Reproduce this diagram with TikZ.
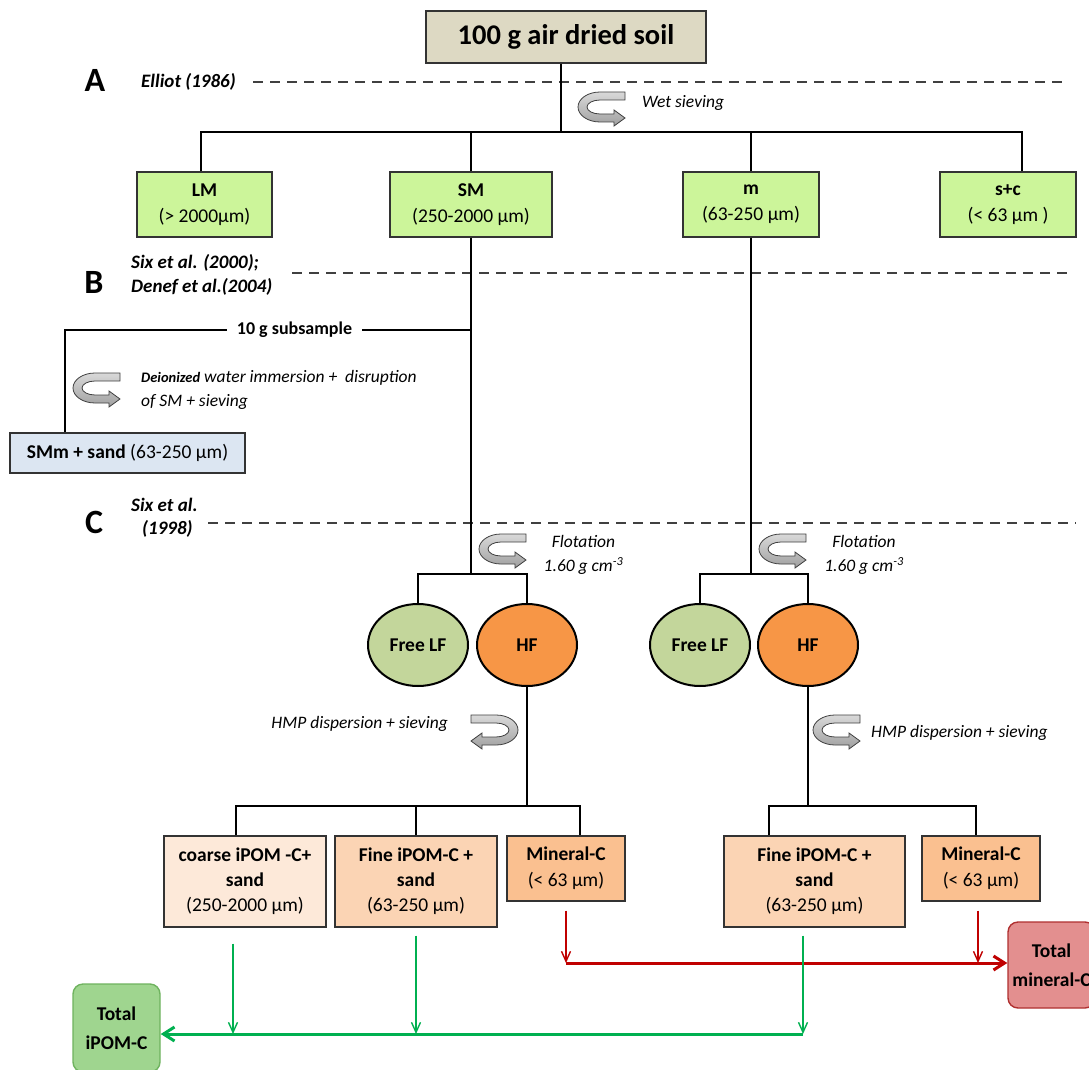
\documentclass[tikz,border=0pt]{standalone}
\usepackage{fontspec}
\setmainfont{Carlito}
\usetikzlibrary{arrows.meta,shapes.geometric}
\definecolor{csoil}{HTML}{DDD9C3}
\definecolor{cgreenbox}{HTML}{CCF59A}
\definecolor{cbluebox}{HTML}{DCE6F2}
\definecolor{cfree}{HTML}{C3D69B}
\definecolor{chf}{HTML}{F79646}
\definecolor{cpeachA}{HTML}{FDE9D9}
\definecolor{cpeachB}{HTML}{FBD4B4}
\definecolor{cpeachC}{HTML}{FAC090}
\definecolor{ctotg}{HTML}{9FD58F}
\definecolor{ctotgb}{HTML}{6FB35F}
\definecolor{ctotr}{HTML}{E38F8F}
\definecolor{ctotrb}{HTML}{B03030}
\definecolor{carrr}{HTML}{C00000}
\definecolor{carrg}{HTML}{00B050}
\tikzset{
  conn/.style={draw=black, line width=1.2pt},
  boxn/.style={draw=black!80, line width=1.4pt, inner sep=0pt, align=center},
  sepline/.style={draw=black!75, line width=1.6pt, dash pattern=on 10pt off 7pt},
  reftext/.style={font=\fontsize{19}{24}\selectfont\bfseries\itshape, anchor=west, inner sep=0pt},
  seclab/.style={font=\fontsize{34}{34}\selectfont\bfseries, inner sep=0pt},
  note/.style={font=\fontsize{17.5}{24}\selectfont\itshape, inner sep=0pt},
  ellnode/.style={ellipse, draw=black, line width=2pt, minimum width=100pt, minimum height=82pt, inner sep=0pt, font=\fontsize{19.5}{22}\selectfont\bfseries},
  topbox/.style={boxn, fill=cgreenbox, minimum height=65pt, font=\fontsize{19.5}{26}\selectfont},
  botbox/.style={boxn, minimum height=91pt, font=\fontsize{19.5}{25}\selectfont},
  minbox/.style={boxn, fill=cpeachC, minimum width=118pt, minimum height=65pt, font=\fontsize{19.5}{26}\selectfont},
  totbox/.style={rounded corners=10pt, line width=1.4pt, inner sep=0pt, align=center, minimum width=87pt, font=\fontsize{19.5}{29}\selectfont\bfseries},
  thinr/.style={draw=carrr, line width=1.4pt, -{Straight Barb[length=10pt,width=9pt]}},
  thickr/.style={draw=carrr, line width=3pt, -{Straight Barb[length=11pt,width=14pt]}},
  thing/.style={draw=carrg, line width=1.4pt, -{Straight Barb[length=10pt,width=9pt]}},
  thickg/.style={draw=carrg, line width=3pt, -{Straight Barb[length=11pt,width=14pt]}},
  curlicon/.pic={
    \shadedraw[top color=gray!30, bottom color=gray!75, draw=black!75, line width=0.8pt]
      (47,0) -- (22,0) arc[start angle=-90, end angle=-270, x radius=22, y radius=15]
      -- (36,30) -- (36,34) -- (47,26) -- (36,18) -- (36,22) -- (22,22)
      arc[start angle=90, end angle=270, x radius=13, y radius=7] -- (47,8) -- cycle;
  }
}
\begin{document}
\begin{tikzpicture}[x=1pt,y=-1pt]
\useasboundingbox (0,0) rectangle (1089,1070);
\clip (0,0) rectangle (1089,1070);
\fill[white] (0,0) rectangle (1089,1070);

% section labels and references
\node[seclab] (labA) at (95,80) {A};
\node[seclab] (labB) at (94,282) {B};
\node[seclab] (labC) at (94,522) {C};
\node[reftext] (refA) at (141,82) {Elliot (1986)};
\node[reftext] (refB1) at (131,263) {Six et al. (2000);};
\node[reftext] (refB2) at (131,287) {Denef et al.(2004)};
\node[reftext] (refC1) at (131,505) {Six et al.};
\node[reftext] (refC2) at (142,529) {(1998)};

% dashed separators
\coordinate (sepA1) at (253,82); \coordinate (sepA2) at (1069,82);
\coordinate (sepB1) at (292,273); \coordinate (sepB2) at (1069,273);
\coordinate (sepC1) at (208,523); \coordinate (sepC2) at (1076,523);
\draw[sepline] (sepA1) -- (sepA2);
\draw[sepline] (sepB1) -- (sepB2);
\draw[sepline] (sepC1) -- (sepC2);

% top
\node[boxn, fill=csoil, minimum width=280pt, minimum height=52pt, font=\fontsize{28.5}{30}\selectfont\bfseries] (soil) at (566,37) {100 g air dried soil};

\node[topbox, minimum width=135pt] (LM) at (204.5,204.5) {\textbf{LM}\\(> 2000µm)};
\node[topbox, minimum width=162pt] (SM) at (471,204.5) {\textbf{SM}\\(250-2000 µm)};
\node[topbox, minimum width=136pt] (mm) at (751,204.5) {\textbf{m}\\(63-250 µm)};
\node[topbox, minimum width=136pt] (sc) at (1008,204.5) {\textbf{s+c}\\(< 63 µm )};

\coordinate (j1) at (561,132);
\coordinate (dLM) at (201,132);
\coordinate (dSC) at (1022,132);
\draw[conn] (soil.south -| j1) -- (j1);
\draw[conn] (dLM |- LM.north) -- (dLM) -- (dSC) -- (dSC |- sc.north);
\draw[conn] (SM.north) -- (SM.north |- j1);
\draw[conn] (mm.north) -- (mm.north |- j1);

\path (578,92) pic {curlicon};
\node[note, anchor=west] (wet) at (642,103) {Wet sieving};

% B section
\node[font=\fontsize{18}{20}\selectfont\bfseries, fill=white, inner xsep=10pt, inner ysep=2pt] (sub) at (294.5,330) {10 g subsample};
\node[boxn, fill=cbluebox, minimum width=235pt, minimum height=40pt, font=\fontsize{19.5}{22}\selectfont] (smm) at (127.5,453) {\textbf{SMm + sand} (63-250 µm)};
\coordinate (lc) at (65,330);
\draw[conn] (SM.south |- sub) -- (sub.east);
\draw[conn] (sub.west) -- (lc) -- (lc |- smm.north);
\path (73,373) pic {curlicon};
\node[note, anchor=west, align=left] (deion) at (141,390) {{\fontsize{14.5}{24}\selectfont\bfseries Deionized} water immersion +\ \ disruption\\of SM + sieving};

% C section: flotation
\node[ellnode, fill=cfree] (flfA) at (418,645) {Free LF};
\node[ellnode, fill=chf] (hfA) at (527,645) {HF};
\node[ellnode, fill=cfree] (flfB) at (700,645) {Free LF};
\node[ellnode, fill=chf] (hfB) at (808,645) {HF};
\coordinate (flA) at (471,574);
\coordinate (flB) at (751,574);
\draw[conn] (SM.south) -- (flA);
\draw[conn] (mm.south) -- (flB);
\draw[conn] (flfA.north) -- (flfA.north |- flA) -- (hfA.north |- flA) -- (hfA.north);
\draw[conn] (flfB.north) -- (flfB.north |- flB) -- (hfB.north |- flB) -- (hfB.north);
\path (479,534) pic {curlicon};
\path (759,534) pic {curlicon};
\node[note, align=center] (flotA) at (583.5,555) {Flotation\\1.60 g cm\textsuperscript{-3}};
\node[note, align=center] (flotB) at (864,555) {Flotation\\1.60 g cm\textsuperscript{-3}};

% HMP
\path (518,715) pic[xscale=-1] {curlicon};
\path (813,715) pic {curlicon};
\node[note, anchor=east] (hmpA) at (448,724) {HMP dispersion + sieving};
\node[note, anchor=west] (hmpB) at (871,733) {HMP dispersion + sieving};

% bottom boxes
\node[botbox, fill=cpeachA, minimum width=162pt] (coarse) at (245,881.5) {\textbf{coarse iPOM -C+}\\\textbf{sand}\\(250-2000 µm)};
\node[botbox, fill=cpeachB, minimum width=162pt] (fineA) at (416,881.5) {\textbf{Fine iPOM-C +}\\\textbf{sand}\\(63-250 µm)};
\node[minbox] (minA) at (566,868.5) {\textbf{Mineral-C}\\(< 63 µm)};
\node[botbox, fill=cpeachB, minimum width=181pt] (fineB) at (814.5,881.5) {\textbf{Fine iPOM-C +}\\\textbf{sand}\\(63-250 µm)};
\node[minbox] (minB) at (981,868.5) {\textbf{Mineral-C}\\(< 63 µm)};

\coordinate (bA1) at (236,806); \coordinate (bA2) at (580,806);
\coordinate (bB1) at (769,806); \coordinate (bB2) at (976,806);
\draw[conn] (hfA.south) -- (hfA.south |- bA1);
\draw[conn] (bA1 |- coarse.north) -- (bA1) -- (bA2) -- (bA2 |- minA.north);
\draw[conn] (fineA.north) -- (fineA.north |- bA1);
\draw[conn] (hfB.south) -- (hfB.south |- bB1);
\draw[conn] (bB1 |- fineB.north) -- (bB1) -- (bB2) -- (bB2 |- minB.north);

% totals
\node[totbox, fill=ctotg, draw=ctotgb, minimum height=88pt] (totC) at (116.5,1028) {Total\\iPOM-C};
\node[totbox, fill=ctotr, draw=ctotrb, minimum height=86pt] (totM) at (1051.5,965) {Total\\mineral-C};

% red arrows
\coordinate (rA) at (566,963);
\coordinate (rB) at (978,963);
\draw[thinr] ([yshift=-9pt]minA.south) -- (rA);
\draw[thinr] ([xshift=-3pt,yshift=-9pt]minB.south) -- (rB);
\draw[thickr] (rA) -- (totM.west |- rA);

% green arrows
\coordinate (gA) at (233,1034);
\coordinate (gB) at (416,1034);
\coordinate (gC) at (803,1034);
\draw[thing] ([xshift=-12pt,yshift=-16pt]coarse.south) -- (gA);
\draw[thing] ([yshift=-8pt]fineA.south) -- (gB);
\draw[thing] ([xshift=-11.5pt,yshift=-8pt]fineB.south) -- (gC);
\draw[thickg] (gC) -- (totC.east |- gC);
\end{tikzpicture}
\end{document}
